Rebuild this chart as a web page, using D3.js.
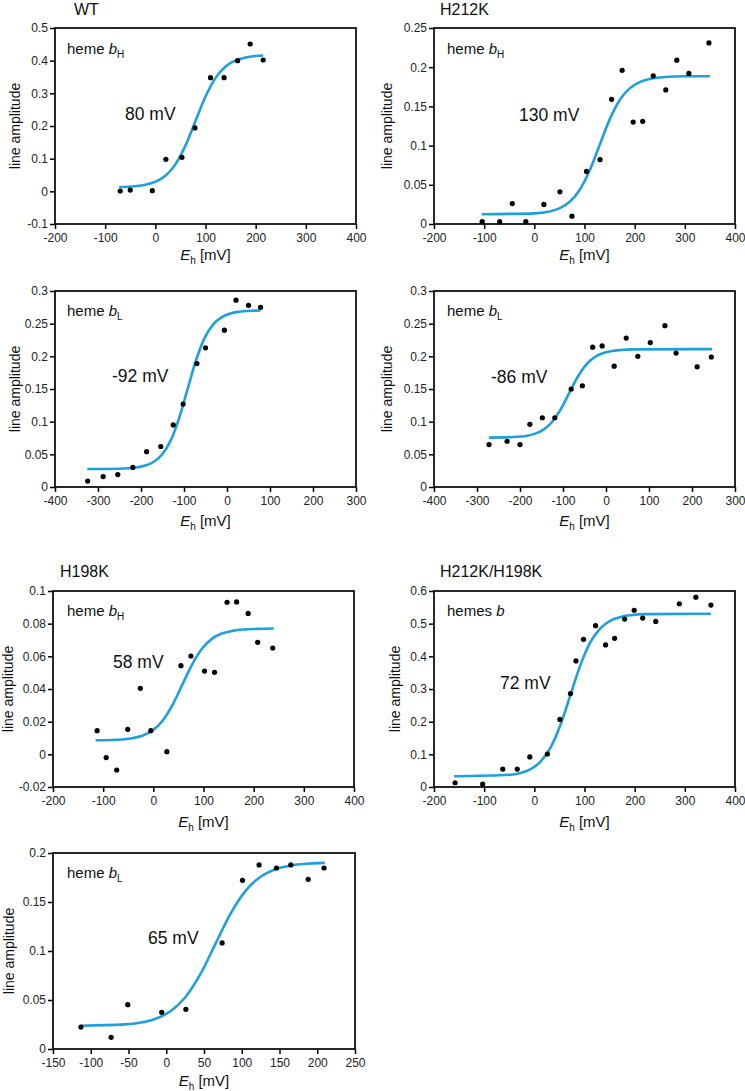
<!DOCTYPE html>
<html><head><meta charset="utf-8">
<script src="https://cdn.jsdelivr.net/npm/d3@7"></script>
<style>
body{margin:0;background:#fff;}
svg{display:block;font-family:"Liberation Sans",Arial,Helvetica,sans-serif;}
</style>
</head><body>
<svg id="chart" width="745" height="1091"></svg>
<script>
// ---------- DATA ----------
const panelTitles = ["WT", "H212K", "", "", "H198K", "H212K/H198K", ""];
const hemeLabels = [["heme ","b","H"],["heme ","b","H"],["heme ","b","L"],["heme ","b","L"],["heme ","b","H"],["hemes ","b",""],["heme ","b","L"]];
const emLabels = ["80 mV","130 mV","-92 mV","-86 mV","58 mV","72 mV","65 mV"];

const xTicksA = [-200,-100,0,100,200,300,400];
const xTicksB = [-400,-300,-200,-100,0,100,200,300];
const xTicksC = [-150,-100,-50,0,50,100,150,200,250];
const yTicks1 = [-0.1,0,0.1,0.2,0.3,0.4,0.5];
const yTicks2 = [0,0.05,0.1,0.15,0.2,0.25];
const yTicks3 = [0,0.05,0.1,0.15,0.2,0.25,0.3];
const yTicks5 = [-0.02,0,0.02,0.04,0.06,0.08,0.1];
const yTicks6 = [0,0.1,0.2,0.3,0.4,0.5,0.6];
const yTicks7 = [0,0.05,0.1,0.15,0.2];

// WT heme bH
const wtBH_E = [-70,-50,-6,21,53,79,110,137,164,189,215];
const wtBH_A = [0.001,0.004,0.002,0.098,0.104,0.194,0.348,0.348,0.400,0.451,0.402];
const wtBH_fitE = [-72,-40,-20,0,20,40,60,80,100,120,140,160,180,200,215];
const wtBH_fitA = [0.0131,0.0158,0.0201,0.0293,0.0478,0.0826,0.1398,0.215,0.2902,0.3474,0.3822,0.4007,0.4099,0.4142,0.4159];

// H212K heme bH
const h212BH_E = [-104,-69,-44,-17,19,51,75,104,131,154,175,197,216,237,262,284,308,348];
const h212BH_A = [0.003,0.003,0.026,0.003,0.025,0.041,0.010,0.067,0.082,0.159,0.196,0.130,0.131,0.189,0.171,0.209,0.192,0.231];
const h212BH_fitE = [-105,0,30,50,70,90,110,130,150,170,190,210,230,260,300,350];
const h212BH_fitA = [0.0125,0.0136,0.016,0.020,0.028,0.0431,0.0679,0.1005,0.1331,0.1579,0.173,0.181,0.185,0.1874,0.1884,0.1885];

// WT heme bL
const wtBL_E = [-324,-288,-254,-219,-187,-154,-125,-102,-70,-50,-6,21,50,78];
const wtBL_A = [0.009,0.016,0.019,0.030,0.054,0.062,0.095,0.127,0.189,0.213,0.240,0.286,0.278,0.275];
const wtBL_fitE = [-325,-250,-212,-192,-172,-152,-132,-112,-92,-72,-52,-32,-12,8,28,58,78];
const wtBL_fitA = [0.0275,0.028,0.0298,0.0324,0.0379,0.049,0.0698,0.104,0.149,0.194,0.2282,0.249,0.2601,0.2656,0.2682,0.2698,0.2702];

// H212K heme bL
const h212BL_E = [-272,-230,-200,-177,-148,-119,-81,-55,-31,-9,19,47,74,103,137,163,212,245];
const h212BL_A = [0.065,0.070,0.065,0.096,0.106,0.106,0.150,0.155,0.214,0.216,0.185,0.228,0.200,0.221,0.247,0.205,0.184,0.199];
const h212BL_fitE = [-272,-206,-186,-166,-146,-126,-106,-86,-66,-46,-26,-6,14,34,64,247];
const h212BL_fitA = [0.0756,0.0768,0.0782,0.0813,0.0875,0.0991,0.1181,0.1433,0.1684,0.1874,0.199,0.2052,0.2083,0.2097,0.2106,0.211];

// H198K heme bH
const h198BH_E = [-112,-94,-73,-51,-26,-5,27,55,75,102,122,147,166,189,208,238];
const h198BH_A = [0.0145,-0.002,-0.0096,0.0153,0.0404,0.0145,0.0016,0.0543,0.0602,0.051,0.0502,0.0931,0.0933,0.0863,0.0686,0.0651];
const h198BH_fitE = [-115,-62,-42,-22,-2,18,38,58,78,98,118,138,158,178,208,240];
const h198BH_fitA = [0.0086,0.0091,0.0099,0.0114,0.0145,0.0204,0.0301,0.0428,0.0554,0.0651,0.071,0.0741,0.0756,0.0764,0.0768,0.077];

// H212K/H198K hemes b
const dbl_E = [-158,-103,-63,-34,-9,26,51,72,83,98,122,142,160,180,199,216,242,289,322,352];
const dbl_A = [0.013,0.009,0.055,0.055,0.092,0.101,0.207,0.286,0.386,0.452,0.494,0.435,0.455,0.514,0.541,0.517,0.507,0.561,0.581,0.557];
const dbl_fitE = [-160,-48,-28,-8,12,32,52,72,92,112,132,152,172,192,222,352];
const dbl_fitA = [0.033,0.0376,0.043,0.0542,0.0769,0.1196,0.1896,0.2818,0.3739,0.4439,0.4866,0.5093,0.5206,0.5259,0.5291,0.5305];

// H198K heme bL
const h198BL_E = [-113,-73,-51,-6,26,74,101,123,146,165,188,209];
const h198BL_A = [0.0224,0.0119,0.0452,0.0374,0.0405,0.1082,0.1721,0.1878,0.1847,0.1878,0.1731,0.1847];
const h198BL_fitE = [-113,-55,-35,-15,5,25,45,65,85,105,125,145,165,185,210];
const h198BL_fitA = [0.0237,0.0251,0.0268,0.0306,0.0382,0.0526,0.0761,0.107,0.1379,0.1614,0.1758,0.1834,0.1872,0.189,0.1899];

// ---------- LAYOUT ----------
const layout = [
  {box:[55,28,356,224], xd:[-200,400], yd:[-0.1,0.5], xt:xTicksA, yt:yTicks1, E:wtBH_E, A:wtBH_A, fE:wtBH_fitE, fA:wtBH_fitA, title:[74,15], heme:[67,54], em:[125,120], ylab:15, xlabY:260},
  {box:[434,28,735,224], xd:[-200,400], yd:[0,0.25], xt:xTicksA, yt:yTicks2, E:h212BH_E, A:h212BH_A, fE:h212BH_fitE, fA:h212BH_fitA, title:[440,15], heme:[447,54], em:[519,121], ylab:387, xlabY:260},
  {box:[55,291,356,487], xd:[-400,300], yd:[0,0.3], xt:xTicksB, yt:yTicks3, E:wtBL_E, A:wtBL_A, fE:wtBL_fitE, fA:wtBL_fitA, title:[0,0], heme:[67,316], em:[112,382], ylab:15, xlabY:526},
  {box:[434,291,735,487], xd:[-400,300], yd:[0,0.3], xt:xTicksB, yt:yTicks3, E:h212BL_E, A:h212BL_A, fE:h212BL_fitE, fA:h212BL_fitA, title:[0,0], heme:[447,316], em:[491,383], ylab:387, xlabY:526},
  {box:[53,591,354,787], xd:[-200,400], yd:[-0.02,0.1], xt:xTicksA, yt:yTicks5, E:h198BH_E, A:h198BH_A, fE:h198BH_fitE, fA:h198BH_fitA, title:[60,577], heme:[67,616], em:[113,668], ylab:8, xlabY:827},
  {box:[434,591,735,787], xd:[-200,400], yd:[0,0.6], xt:xTicksA, yt:yTicks6, E:dbl_E, A:dbl_A, fE:dbl_fitE, fA:dbl_fitA, title:[440,577], heme:[447,616], em:[500,689], ylab:395, xlabY:827},
  {box:[53,853,355,1049], xd:[-150,250], yd:[0,0.2], xt:xTicksC, yt:yTicks7, E:h198BL_E, A:h198BL_A, fE:h198BL_fitE, fA:h198BL_fitA, title:[0,0], heme:[67,878], em:[148,944], ylab:9, xlabY:1086}
];

const svg = d3.select("#chart");
const blue = "#1fa0dc";
const fmtY = d => d === 0 ? "0" : String(+d.toFixed(3));

layout.forEach((p, i) => {
  const [x0,y0,x1,y1] = p.box;
  const x = d3.scaleLinear().domain(p.xd).range([x0,x1]);
  const y = d3.scaleLinear().domain(p.yd).range([y1,y0]);
  const g = svg.append("g");

  // axes
  g.append("g").attr("transform",`translate(0,${y1})`)
    .call(d3.axisBottom(x).tickValues(p.xt).tickSize(5).tickSizeOuter(0).tickPadding(4).tickFormat(d=>String(d)))
    .call(a=>{a.select(".domain").remove(); a.selectAll("line").attr("stroke","#000").attr("stroke-width",1.5);
      a.selectAll("text").attr("font-size",12).attr("fill","#222").attr("font-family",null);});
  g.append("g").attr("transform",`translate(${x0},0)`)
    .call(d3.axisLeft(y).tickValues(p.yt).tickSize(5).tickSizeOuter(0).tickPadding(2).tickFormat(fmtY))
    .call(a=>{a.select(".domain").remove(); a.selectAll("line").attr("stroke","#000").attr("stroke-width",1.5);
      a.selectAll("text").attr("font-size",12).attr("fill","#222").attr("font-family",null);});

  // frame
  g.append("rect").attr("x",x0).attr("y",y0).attr("width",x1-x0).attr("height",y1-y0)
    .attr("fill","none").attr("stroke","#111").attr("stroke-width",1.8);

  // fit curve
  const fit = p.fE.map((e,k)=>[e,p.fA[k]]);
  g.append("path").datum(fit)
    .attr("d", d3.line().x(d=>x(d[0])).y(d=>y(d[1])).curve(d3.curveMonotoneX))
    .attr("fill","none").attr("stroke",blue).attr("stroke-width",2.6);

  // data points
  g.selectAll("circle.pt").data(p.E.map((e,k)=>[e,p.A[k]])).join("circle")
    .attr("class","pt").attr("cx",d=>x(d[0])).attr("cy",d=>y(d[1])).attr("r",2.6).attr("fill","#000");

  // titles
  if (panelTitles[i]) {
    svg.append("text").attr("x",p.title[0]).attr("y",p.title[1]).attr("font-size",16).attr("fill","#111").text(panelTitles[i]);
  }
  // heme label
  const hl = hemeLabels[i];
  const ht = svg.append("text").attr("x",p.heme[0]).attr("y",p.heme[1]).attr("font-size",15).attr("fill","#111");
  ht.append("tspan").text(hl[0]);
  ht.append("tspan").attr("font-style","italic").text(hl[1]);
  if (hl[2]) ht.append("tspan").attr("font-size",10).attr("dy",4).text(hl[2]);

  // Em label
  svg.append("text").attr("x",p.em[0]).attr("y",p.em[1]).attr("font-size",17.5).attr("fill","#111").text(emLabels[i]);

  // y label
  svg.append("text").attr("transform",`translate(${p.ylab},${(y0+y1)/2}) rotate(-90)`)
    .attr("text-anchor","middle").attr("dy","0.35em").attr("font-size",14).attr("fill","#111").text("line amplitude");

  // x label
  const xl = svg.append("text").attr("x",(x0+x1)/2).attr("y",p.xlabY).attr("text-anchor","middle").attr("font-size",15).attr("fill","#111");
  xl.append("tspan").attr("font-style","italic").text("E");
  xl.append("tspan").attr("font-size",10).attr("dy",4).text("h");
  xl.append("tspan").attr("dy",-4).text(" [mV]");
});
</script>
</body></html>
